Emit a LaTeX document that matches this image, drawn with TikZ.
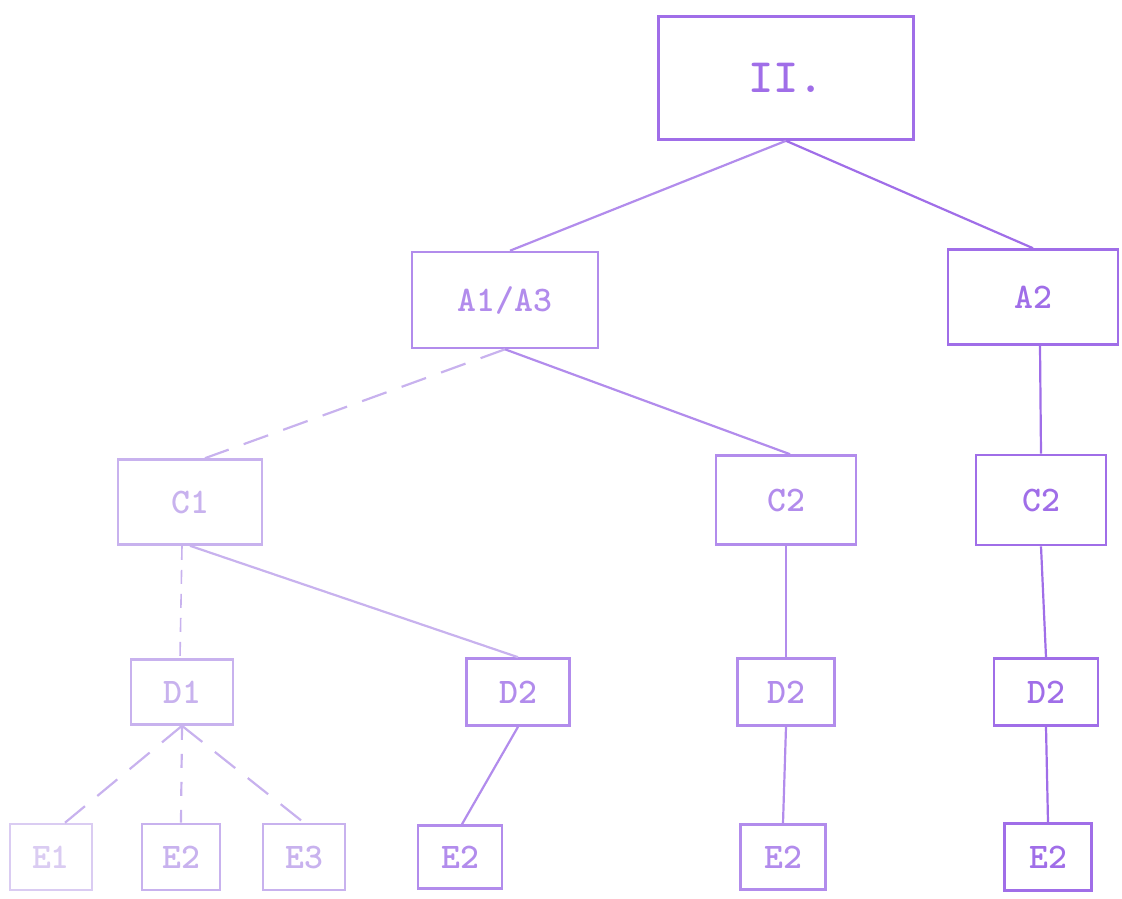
\documentclass[tikz,border=0pt]{standalone}
\usepackage{fontspec}
\definecolor{pA}{RGB}{160,110,232}
\definecolor{pB}{RGB}{178,140,236}
\definecolor{pC}{RGB}{200,178,238}
\definecolor{pD}{RGB}{218,204,242}
\tikzset{
  box/.style={draw=#1, text=#1, line width=2.6pt, rectangle, inner sep=0pt,
    font=\ttfamily\bfseries\fontsize{36}{36}\selectfont},
  link/.style={draw=#1, line width=2.2pt},
  dlink/.style={draw=#1, line width=2.2pt, dash pattern=on 26pt off 16pt},
}
\begin{document}
\begin{tikzpicture}[x=1pt,y=-1pt]
\useasboundingbox (0,0) rectangle (1122,899);
% nodes
\node[box=pA, minimum width=255, minimum height=123, font=\ttfamily\bfseries\fontsize{48}{48}\selectfont] (top) at (786,78) {II.};
\node[box=pB, minimum width=186, minimum height=96] (a13) at (505,300) {A1/A3};
\node[box=pA, minimum width=170, minimum height=95] (a2) at (1033,297) {A2};
\node[box=pC, minimum width=144, minimum height=85] (c1) at (190,502) {C1};
\node[box=pB, minimum width=140, minimum height=89] (c2m) at (786,500) {C2};
\node[box=pA, minimum width=130, minimum height=90] (c2r) at (1041,500) {C2};
\node[box=pC, minimum width=102, minimum height=65] (d1) at (182,692) {D1};
\node[box=pB, minimum width=103, minimum height=67] (d2l) at (518,692) {D2};
\node[box=pB, minimum width=97, minimum height=67] (d2m) at (786,692) {D2};
\node[box=pA, minimum width=104, minimum height=67] (d2r) at (1046,692) {D2};
\node[box=pD, minimum width=82, minimum height=66] (e1) at (51,857) {E1};
\node[box=pC, minimum width=78, minimum height=66] (e2a) at (181,857) {E2};
\node[box=pC, minimum width=82, minimum height=66] (e3) at (304,857) {E3};
\node[box=pB, minimum width=84, minimum height=63] (e2b) at (460,857) {E2};
\node[box=pB, minimum width=85, minimum height=65] (e2m) at (783,857) {E2};
\node[box=pA, minimum width=87, minimum height=67] (e2r) at (1048,857) {E2};
% connectors
\draw[link=pB] (top.south) -- ([xshift=5pt]a13.north);
\draw[link=pA] (top.south) -- (a2.north);
\draw[dlink=pC] (a13.south) -- ([xshift=15pt]c1.north);
\draw[link=pB] (a13.south) -- ([xshift=4pt]c2m.north);
\draw[link=pA] ([xshift=7pt]a2.south) -- (c2r.north);
\draw[link=pC, dash pattern=on 14pt off 10pt, line width=1.6pt] ([xshift=-8pt]c1.south) -- ([xshift=-2pt]d1.north);
\draw[link=pC] (c1.south) -- (d2l.north);
\draw[link=pB] (c2m.south) -- (d2m.north);
\draw[link=pA] (c2r.south) -- (d2r.north);
\draw[dlink=pC] (d1.south) -- ([xshift=14pt]e1.north);
\draw[link=pC, dash pattern=on 14pt off 14pt] (d1.south) -- (e2a.north);
\draw[dlink=pC] (d1.south) -- (e3.north);
\draw[link=pB] (d2l.south) -- ([xshift=2pt]e2b.north);
\draw[link=pB] (d2m.south) -- (e2m.north);
\draw[link=pA] (d2r.south) -- (e2r.north);
\end{tikzpicture}
\end{document}
